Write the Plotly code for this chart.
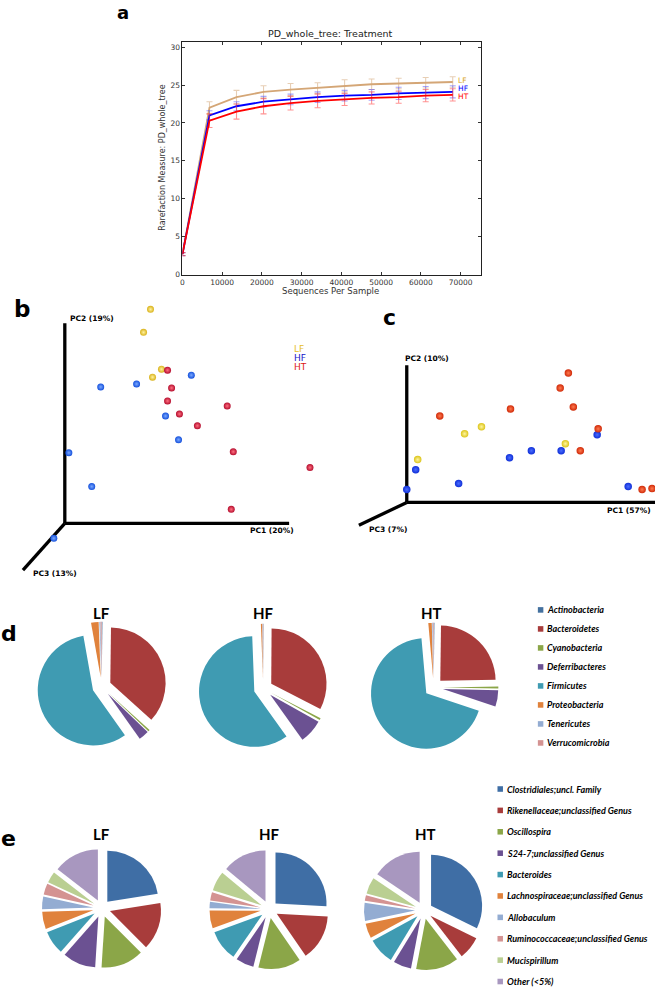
import plotly.graph_objects as go

W, H = 655, 992

# ---------------- data ----------------
# panel a: rarefaction
seq_depth = [0, 6800, 13600, 20400, 27200, 34000, 40800, 47600, 54400, 61200, 68000]
pd_LF = [2.7, 22.0, 23.4, 24.1, 24.4, 24.6, 24.9, 25.1, 25.2, 25.3, 25.4]
pd_HF = [2.7, 21.0, 22.2, 22.8, 23.1, 23.4, 23.6, 23.7, 23.9, 24.0, 24.1]
pd_HT = [2.7, 20.3, 21.5, 22.2, 22.6, 22.9, 23.1, 23.3, 23.4, 23.6, 23.7]
err_LF = [0.2, 0.8, 0.9, 0.8, 0.8, 0.7, 0.8, 0.7, 0.7, 0.7, 0.7]
err_HF = [0.2, 0.6, 0.6, 0.7, 0.7, 0.7, 0.7, 0.7, 0.8, 0.8, 0.8]
err_HT = [0.2, 0.9, 1.0, 1.0, 0.9, 0.9, 0.8, 0.8, 0.8, 0.8, 0.8]

# panel b: PCoA (projected coordinates, PC1 axis length = 1, PC2 axis length = 1)
b_LF_x = [0.382, 0.351, 0.431, 0.391]
b_LF_y = [1.070, 0.955, 0.771, 0.731]
b_HF_x = [0.160, 0.320, 0.564, 0.449, 0.507, 0.018, 0.120, -0.049]
b_HF_y = [0.682, 0.697, 0.741, 0.537, 0.418, 0.353, 0.184, -0.075]
b_HT_x = [0.458, 0.476, 0.458, 0.511, 0.724, 0.591, 0.751, 1.093, 0.742]
b_HT_y = [0.766, 0.677, 0.612, 0.547, 0.587, 0.488, 0.358, 0.279, 0.070]

# panel c: PCoA
c_LF_x = [0.301, 0.233, 0.639, 0.044]
c_LF_y = [0.551, 0.500, 0.428, 0.312]
c_HF_x = [0.767, 0.622, 0.502, 0.414, 0.036, 0.209, 0.000, 0.892]
c_HF_y = [0.493, 0.377, 0.377, 0.326, 0.239, 0.138, 0.094, 0.116]
c_HT_x = [0.651, 0.618, 0.671, 0.418, 0.133, 0.771, 0.699, 0.948, 0.988]
c_HT_y = [0.942, 0.833, 0.696, 0.681, 0.630, 0.536, 0.377, 0.094, 0.101]

groups = ["LF", "HF", "HT"]

# panel d: phyla
phyla = ["Actinobacteria", "Bacteroidetes", "Cyanobacteria", "Deferribacteres",
         "Firmicutes", "Proteobacteria", "Tenericutes", "Verrucomicrobia"]
phyla_LF = [0.2, 36.5, 0.5, 3.0, 57.0, 2.2, 0.3, 0.3]
phyla_HF = [0.1, 32.5, 0.5, 7.0, 59.3, 0.4, 0.1, 0.1]
phyla_HT = [0.2, 24.5, 0.6, 4.8, 68.5, 1.0, 0.2, 0.2]

# panel e: genera
genera = ["Clostridiales;uncl. Family", "Rikenellaceae;unclassified Genus", "Oscillospira",
          "S24-7;unclassified Genus", "Bacteroides", "Lachnospiraceae;unclassified Genus",
          "Allobaculum", "Ruminococcaceae;unclassified Genus", "Mucispirillum", "Other (<5%)"]
genera_LF = [22.5, 15.0, 13.5, 10.5, 7.5, 5.5, 4.0, 3.5, 3.5, 14.5]
genera_HF = [25.0, 14.0, 13.0, 5.5, 9.5, 5.5, 2.0, 2.5, 6.0, 13.5]
genera_HT = [31.0, 7.0, 13.0, 5.5, 8.0, 4.5, 5.5, 1.7, 5.0, 15.0]

# ---------------- styles ----------------
phyla_colors = ["#44719f", "#a83c3b", "#8ba648", "#6b5192", "#3f9bb2", "#e0823c", "#93acd2", "#d49392"]
genera_colors = ["#3f6ea5", "#a83c3b", "#8ba648", "#6b5192", "#3f9bb2", "#e0823c",
                 "#93acd2", "#d49392", "#bacf92", "#a897bf"]


def px(x):
    return x / W


def py(y):
    return 1 - y / H


def note(text, x, y, font, xanchor="center", yanchor="middle", **kw):
    fig.add_annotation(x=px(x), y=py(y), xref="paper", yref="paper", text=text, showarrow=False,
                       xanchor=xanchor, yanchor=yanchor, font=font, **kw)


fig = go.Figure()

# ---------------- panel a ----------------
a_lines = [("LF", pd_LF, err_LF, "rgb(212,166,118)", "rgba(212,166,118,0.55)", "#d9a41c", 1),
           ("HF", pd_HF, err_HF, "#0000ff", "rgba(60,60,255,0.45)", "#0000ff", 3),
           ("HT", pd_HT, err_HT, "#ff0000", "rgba(255,40,40,0.5)", "#ff0000", -2)]
for name, ys, es, col, ecol, tcol, shift in a_lines:
    fig.add_trace(go.Scatter(
        x=seq_depth, y=ys, mode="lines", name=name, showlegend=False,
        line=dict(color=col, width=1.8),
        error_y=dict(type="data", array=es, visible=True, color=ecol, thickness=1.1, width=3),
        xaxis="x", yaxis="y"))
    fig.add_annotation(x=seq_depth[-1] + 900, y=ys[-1], xref="x", yref="y", text=name,
                       showarrow=False, xanchor="left", yanchor="middle", yshift=shift,
                       font=dict(family="DejaVu Sans", size=7.5, color=tcol))

tick_font = dict(family="DejaVu Sans", size=7.5, color="#333333")
fig.update_layout(
    xaxis=dict(domain=[px(181), px(480)], range=[0, 75000], tickvals=list(range(0, 70001, 10000)),
               tickformat="d",
               ticks="inside", ticklen=3, tickcolor="#333", showline=True, linecolor="#222",
               linewidth=1, mirror="ticks", showgrid=False, zeroline=False, tickfont=tick_font,
               anchor="y"),
    yaxis=dict(domain=[py(276), py(42)], range=[0, 30.7], tickvals=list(range(0, 31, 5)),
               ticks="inside", ticklen=3, tickcolor="#333", showline=True, linecolor="#222",
               linewidth=1, mirror="ticks", showgrid=False, zeroline=False, tickfont=tick_font,
               anchor="x"),
)
note("PD_whole_tree: Treatment", 330, 34, dict(family="DejaVu Sans", size=9.5, color="#222"))
note("Sequences Per Sample", 330, 292, dict(family="DejaVu Sans", size=8.5, color="#333"))
note("Rarefaction Measure: PD_whole_tree", 161, 159, dict(family="DejaVu Sans", size=8, color="#333"),
     textangle=-90)


# ---------------- panels b & c (projected 3-D PCoA) ----------------
def pcoa_axes(xa, ya, dom_l, dom_r, dom_t, dom_b, ox, oy, x_end, y_top):
    sx = x_end - ox
    sy = oy - y_top
    fig.layout[xa] = dict(domain=[px(dom_l), px(dom_r)], range=[(dom_l - ox) / sx, (dom_r - ox) / sx],
                          visible=False, anchor=ya.replace("axis", ""))
    fig.layout[ya] = dict(domain=[py(dom_b), py(dom_t)], range=[(oy - dom_b) / sy, (oy - dom_t) / sy],
                          visible=False, anchor=xa.replace("axis", ""))
    return sx, sy


# geometry of drawn axes (reference pixels)
bsx, bsy = pcoa_axes("xaxis2", "yaxis2", 0, 330, 300, 590, 63, 526, 288, 325)
csx, csy = pcoa_axes("xaxis3", "yaxis3", 330, 655, 300, 560, 406, 505, 655, 367)

b_pc3 = ((21 - 63) / bsx, (526 - 573) / bsy)
c_pc3 = ((358 - 406) / csx, (505 - 528) / csy)

for xr, yr, pc3 in [("x2", "y2", b_pc3), ("x3", "y3", c_pc3)]:
    for (x1, y1) in [(1, 0), (0, 1), pc3]:
        fig.add_shape(type="line", x0=0, y0=0, x1=x1, y1=y1, xref=xr, yref=yr,
                      line=dict(color="black", width=3.3), layer="below")

b_sets = [(b_LF_x, b_LF_y, "#d9b21a", "#fff2a0"),
          (b_HF_x, b_HF_y, "#1450dc", "#7aa8ff"),
          (b_HT_x, b_HT_y, "#b50d2e", "#ff7080")]
for (xs, ys, col, hi), g in zip(b_sets, groups):
    fig.add_trace(go.Scatter(x=xs, y=ys, mode="markers", name=g, showlegend=False,
                             marker=dict(size=7, color=col, line=dict(width=0),
                                         gradient=dict(type="radial", color=hi)),
                             xaxis="x2", yaxis="y2", cliponaxis=False))

c_sets = [(c_LF_x, c_LF_y, "#dcc41a", "#fff6a0"),
          (c_HF_x, c_HF_y, "#1030d8", "#4a6cff"),
          (c_HT_x, c_HT_y, "#d02a08", "#ff7a50")]
for (xs, ys, col, hi), g in zip(c_sets, groups):
    fig.add_trace(go.Scatter(x=xs, y=ys, mode="markers", name=g, showlegend=False,
                             marker=dict(size=7.5, color=col, line=dict(width=0),
                                         gradient=dict(type="radial", color=hi)),
                             xaxis="x3", yaxis="y3", cliponaxis=False))

pc_font = dict(family="DejaVu Sans", size=7.5, color="black", weight="bold")
for text, x, y, anchor in [("PC2 (19%)", 66, 320, "left"), ("PC1 (20%)", 295, 533, "right"),
                           ("PC3 (13%)", 29, 576, "left"), ("PC2 (10%)", 402, 360, "left"),
                           ("PC1 (57%)", 653, 513, "right"), ("PC3 (7%)", 366, 532, "left")]:
    note(text, x, y, pc_font, xanchor=anchor)

for g, col, y in zip(groups, ["#e6be1e", "#1414c8", "#dc1414"], [351, 360, 369]):
    note(g, 291, y, dict(family="DejaVu Sans", size=9, color=col), xanchor="left")


# ---------------- panels d & e (pies) ----------------
def add_pie(labels, values, colors, cx, cy, size, pull):
    fig.add_trace(go.Pie(labels=labels, values=values, sort=False, direction="clockwise",
                         rotation=0, textinfo="none", hoverinfo="label+percent",
                         marker=dict(colors=colors, line=dict(width=0)),
                         pull=[pull] * len(values), showlegend=False,
                         domain=dict(x=[px(cx - size / 2), px(cx + size / 2)],
                                     y=[py(cy + size / 2), py(cy - size / 2)])))


for vals, cx, cy in [(phyla_LF, 100, 690), (phyla_HF, 262, 692), (phyla_HT, 433, 691)]:
    add_pie(phyla, vals, phyla_colors, cx, cy, 130, 0.17)
for vals, cx, cy in [(genera_LF, 100, 913), (genera_HF, 268, 914), (genera_HT, 423, 915)]:
    add_pie(genera, vals, genera_colors, cx, cy, 120, 0.17)

title_font = dict(family="Lato", size=15, color="black", weight="bold")
for g, x in zip(groups, [100, 262, 431]):
    note(g, x, 616, title_font)
for g, x in zip(groups, [100, 268, 425]):
    note(g, x, 838, title_font)

leg_font = dict(family="Lato", size=9, color="black", weight="bold", style="italic")


def add_legend(labels, colors, x_sq, y0, dy):
    for i, (lab, col) in enumerate(zip(labels, colors)):
        y = y0 + i * dy
        fig.add_shape(type="rect", xref="paper", yref="paper",
                      x0=px(x_sq), x1=px(x_sq + 5.5), y0=py(y + 2.8), y1=py(y - 2.8),
                      fillcolor=col, line=dict(width=0))
        note(lab, x_sq + 7.5, y, leg_font, xanchor="left")


add_legend(phyla, phyla_colors, 537.5, 613, 19.1)
add_legend(genera, genera_colors, 497, 793, 21.5)

# ---------------- panel letters ----------------
for t, x, y, s, ya in [("a", 121, 0, 18, "top"), ("b", 20, 311, 23, "middle"),
                       ("c", 389, 319, 22, "middle"), ("d", 7, 637, 22, "middle"),
                       ("e", 7, 843, 22, "middle")]:
    note(t, x, y, dict(family="DejaVu Sans", size=s, color="black", weight="bold"), yanchor=ya)

fig.update_layout(width=W, height=H, margin=dict(l=0, r=0, t=0, b=0),
                  paper_bgcolor="white", plot_bgcolor="white", showlegend=False)

# remove the default 8px page margin so the figure fills the 655x992 window exactly
fig.write_html("out.html", config={"displayModeBar": False},
               post_script="document.body.style.margin='0';"
                           "document.documentElement.style.overflow='hidden';")
